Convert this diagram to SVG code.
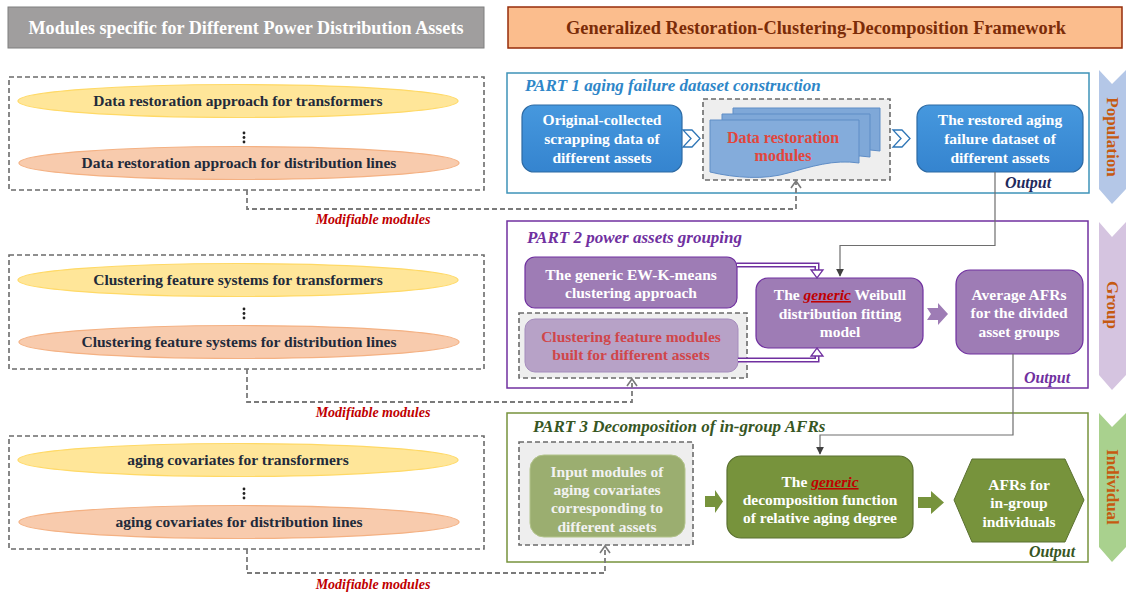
<svg xmlns="http://www.w3.org/2000/svg" width="1126" height="596" viewBox="0 0 1126 596">
<defs>
<style>
.t{font-family:"Liberation Serif","Times New Roman",serif;font-weight:bold;text-anchor:middle}
.nw{fill:#ffffff;font-size:15.5px}
.el{fill:#222a3a;font-size:15.5px}
.mod{fill:#c00000;font-size:14px;font-style:italic}
.ttl{font-size:17px;font-style:italic;text-anchor:start}
.out{font-size:16px;font-style:italic}
.side{fill:#c55a11;font-size:17px}
.gen{fill:#c00000;font-style:italic;text-decoration:underline}
.dbox{fill:none;stroke:#6b6b6b;stroke-width:1.6;stroke-dasharray:5 3}
.dconn{fill:none;stroke:#7a7a7a;stroke-width:1.8;stroke-dasharray:5 3}
.ohead{fill:none;stroke:#7a7a7a;stroke-width:1.6}
.conn{fill:none;stroke:#6e6e6e;stroke-width:1.2}
.ey{fill:#ffe699;stroke:#ffd966;stroke-width:1.2}
.eo{fill:#f8cbad;stroke:#f4b183;stroke-width:1.2}
</style>
<linearGradient id="gb" x1="0" y1="0" x2="0" y2="1"><stop offset="0" stop-color="#4698de"/><stop offset="1" stop-color="#3584cf"/></linearGradient>
<marker id="ah" viewBox="0 0 10 10" refX="9" refY="5" markerWidth="8" markerHeight="8" orient="auto" markerUnits="userSpaceOnUse"><path d="M0,0 L10,5 L0,10 Z" fill="#404040"/></marker>
</defs>

<!-- headers -->
<g id="header-left">
<rect x="8" y="7" width="476" height="41" fill="#a09e9e" stroke="#7f7f7f" stroke-width="1"/>
<text class="t" x="246" y="34" fill="#ffffff" font-size="18" textLength="435" lengthAdjust="spacingAndGlyphs">Modules specific for Different Power Distribution Assets</text>
</g>
<g id="header-right">
<rect x="508" y="7" width="614" height="41" fill="#fbbd8d" stroke="#962d0a" stroke-width="1.5"/>
<text class="t" x="816" y="34" fill="#7b2c08" font-size="18" textLength="500" lengthAdjust="spacingAndGlyphs">Generalized Restoration-Clustering-Decomposition Framework</text>
</g>

<!-- left module groups -->
<g id="left-restoration">
<rect class="dbox" x="9" y="77" width="475" height="113"/>
<ellipse class="ey" cx="238" cy="101" rx="220" ry="16.5"/>
<text class="t el" x="238" y="106">Data restoration approach for transformers</text>
<circle cx="244" cy="133" r="1.4" fill="#222"/><circle cx="244" cy="137.5" r="1.4" fill="#222"/><circle cx="244" cy="142" r="1.4" fill="#222"/>
<ellipse class="eo" cx="239" cy="163" rx="220" ry="16.5"/>
<text class="t el" x="239" y="168">Data restoration approach for distribution lines</text>
</g>
<g id="left-clustering">
<rect class="dbox" x="9" y="255" width="475" height="114"/>
<ellipse class="ey" cx="238" cy="280" rx="220" ry="16.5"/>
<text class="t el" x="238" y="285">Clustering feature systems for transformers</text>
<circle cx="244" cy="309" r="1.4" fill="#222"/><circle cx="244" cy="313.5" r="1.4" fill="#222"/><circle cx="244" cy="318" r="1.4" fill="#222"/>
<ellipse class="eo" cx="239" cy="342" rx="220" ry="16.5"/>
<text class="t el" x="239" y="347">Clustering feature systems for distribution lines</text>
</g>
<g id="left-covariates">
<rect class="dbox" x="9" y="436" width="475" height="113"/>
<ellipse class="ey" cx="238" cy="460" rx="220" ry="16.5"/>
<text class="t el" x="238" y="465">aging covariates for transformers</text>
<circle cx="244" cy="489" r="1.4" fill="#222"/><circle cx="244" cy="493.5" r="1.4" fill="#222"/><circle cx="244" cy="498" r="1.4" fill="#222"/>
<ellipse class="eo" cx="239" cy="522" rx="220" ry="16.5"/>
<text class="t el" x="239" y="527">aging covariates for distribution lines</text>
</g>

<!-- PART frames -->
<g id="part1">
<rect x="507" y="73" width="582" height="120" fill="#ffffff" stroke="#3e93b8" stroke-width="1.5"/>
<text class="t ttl" x="525" y="91" fill="#2e86c8">PART 1 aging failure dataset construction</text>
<text class="t out" x="1028" y="188" fill="#1f2a5c">Output</text>
</g>
<g id="part2">
<rect x="507" y="221" width="581" height="167" fill="#ffffff" stroke="#7030a0" stroke-width="1.5"/>
<text class="t ttl" x="527" y="243" fill="#7030a0">PART 2 power assets grouping</text>
<text class="t out" x="1047" y="383" fill="#7030a0">Output</text>
</g>
<g id="part3">
<rect x="507" y="413" width="581" height="149" fill="#ffffff" stroke="#77933c" stroke-width="1.5"/>
<text class="t ttl" x="533" y="432" fill="#375623">PART 3 Decomposition of in-group AFRs</text>
<text class="t out" x="1052" y="557" fill="#375623">Output</text>
</g>

<!-- side chevrons -->
<g id="population">
<polygon points="1099,70 1112,84 1126,70 1126,189 1112,204 1099,189" fill="#b4c7e7"/>
<text class="t side" transform="translate(1107,137) rotate(90)" x="0" y="0">Population</text>
</g>
<g id="group">
<polygon points="1099,222 1112,237 1126,222 1126,375 1112,390 1099,375" fill="#d5c4e0"/>
<text class="t side" transform="translate(1107,305) rotate(90)" x="0" y="0">Group</text>
</g>
<g id="individual">
<polygon points="1099,413 1112,427 1126,413 1126,547 1112,562 1099,547" fill="#a9d18e"/>
<text class="t side" transform="translate(1107,487) rotate(90)" x="0" y="0">Individual</text>
</g>

<!-- Part 1 nodes -->
<g id="original-data">
<rect x="522" y="105" width="160" height="67" rx="12" fill="url(#gb)" stroke="#2d6aa3" stroke-width="1.2"/>
<text class="t nw" x="602" y="125">Original-collected</text>
<text class="t nw" x="602" y="144">scrapping data of</text>
<text class="t nw" x="602" y="163">different assets</text>
</g>
<g id="data-restoration-modules">
<rect x="703" y="99" width="187" height="81" fill="#eeeeee"/>
<rect class="dbox" x="703" y="99" width="187" height="81"/>
<path d="M733,108 H880 V151 C855,147 830,155 810,161 C790,167 760,165 733,160 Z" fill="#7fa8d8" stroke="#5f8dc6" stroke-width="1"/>
<path d="M722,114 H870 V157 C845,153 820,161 800,167 C780,173 750,171 722,166 Z" fill="#7fa8d8" stroke="#5f8dc6" stroke-width="1"/>
<path d="M710,120 H859 V163 C834,159 810,167 788,173 C765,180 735,178 710,172 Z" fill="#84acdb" stroke="#5f8dc6" stroke-width="1"/>
<text class="t" x="783" y="143" fill="#e2463c" font-size="16">Data restoration</text>
<text class="t" x="783" y="161" fill="#e2463c" font-size="16">modules</text>
</g>
<g id="restored-dataset">
<rect x="917" y="105" width="166" height="67" rx="12" fill="url(#gb)" stroke="#2d6aa3" stroke-width="1.2"/>
<text class="t nw" x="1000" y="125">The restored aging</text>
<text class="t nw" x="1000" y="144">failure dataset of</text>
<text class="t nw" x="1000" y="163">different assets</text>
</g>

<!-- Part 2 nodes -->
<g id="ew-k-means">
<rect x="525" y="257" width="212" height="51" rx="10" fill="#9e7cb5" stroke="#7030a0" stroke-width="1.2"/>
<text class="t nw" x="631" y="280">The generic EW-K-means</text>
<text class="t nw" x="631" y="298">clustering approach</text>
</g>
<g id="clustering-feature-modules">
<rect x="519" y="313" width="228" height="65" fill="#eeeeee"/>
<rect class="dbox" x="519" y="313" width="228" height="65"/>
<rect x="525" y="319" width="213" height="53" rx="10" fill="#b7a2c7" stroke="#a58cbd" stroke-width="1"/>
<text class="t" x="631" y="342" fill="#d0464a" font-size="15.5">Clustering feature modules</text>
<text class="t" x="631" y="360" fill="#d0464a" font-size="15.5">built for different assets</text>
</g>
<g id="weibull-model">
<rect x="756" y="278" width="167" height="70" rx="12" fill="#9e7cb5" stroke="#7030a0" stroke-width="1.2"/>
<text class="t nw" x="840" y="300">The <tspan class="gen">generic</tspan> Weibull</text>
<text class="t nw" x="840" y="319">distribution fitting</text>
<text class="t nw" x="840" y="337">model</text>
</g>
<g id="average-afrs">
<rect x="956" y="270" width="127" height="84" rx="14" fill="#9e7cb5" stroke="#7030a0" stroke-width="1.2"/>
<text class="t nw" x="1019" y="300">Average AFRs</text>
<text class="t nw" x="1019" y="318">for the divided</text>
<text class="t nw" x="1019" y="337">asset groups</text>
</g>

<!-- Part 3 nodes -->
<g id="input-modules">
<rect x="519" y="442" width="174" height="103" fill="#eeeeee"/>
<rect class="dbox" x="519" y="442" width="174" height="103"/>
<rect x="530" y="455" width="155" height="82" rx="14" fill="#9bae70" stroke="#b3c48c" stroke-width="1"/>
<text class="t" x="607" y="477" fill="#f2f2f2" font-size="15.5">Input modules  of</text>
<text class="t" x="607" y="495" fill="#f2f2f2" font-size="15.5">aging covariates</text>
<text class="t" x="607" y="513" fill="#f2f2f2" font-size="15.5">corresponding to</text>
<text class="t" x="607" y="532" fill="#f2f2f2" font-size="15.5">different assets</text>
</g>
<g id="decomposition-function">
<rect x="727" y="456" width="186" height="82" rx="14" fill="#77933c" stroke="#5a7030" stroke-width="1.2"/>
<text class="t nw" x="820" y="487">The <tspan class="gen">generic</tspan></text>
<text class="t nw" x="820" y="505">decomposition function</text>
<text class="t nw" x="820" y="523">of relative aging degree</text>
</g>
<g id="afrs-individuals">
<polygon points="954,500 972,459 1065,459 1084,500 1065,542 972,542" fill="#77933c" stroke="#5a7030" stroke-width="1"/>
<text class="t nw" x="1019" y="490">AFRs for</text>
<text class="t nw" x="1019" y="508">in-group</text>
<text class="t nw" x="1019" y="527">individuals</text>
</g>

<!-- connectors -->
<g id="connectors">
<polygon points="683,130 692,130 700,138.5 692,147 683,147 691,138.5" fill="#ffffff" stroke="#2e75b6" stroke-width="1.3"/>
<polygon points="893,130 902,130 910,138.5 902,147 893,147 901,138.5" fill="#ffffff" stroke="#2e75b6" stroke-width="1.3"/>
<path class="conn" d="M995,172 V245.5 H840 V276" marker-end="url(#ah)"/>
<path class="conn" d="M1013,354 V435 H820 V454" marker-end="url(#ah)"/>
<path d="M737,265 H817 V271" fill="none" stroke="#7030a0" stroke-width="5"/>
<path d="M737,265 H817 V272" fill="none" stroke="#ffffff" stroke-width="2"/>
<polygon points="811,270 823,270 817,278" fill="#ffffff" stroke="#7030a0" stroke-width="1.3"/>
<path d="M738,360 H817 V355" fill="none" stroke="#7030a0" stroke-width="5"/>
<path d="M738,360 H817 V354" fill="none" stroke="#ffffff" stroke-width="2"/>
<polygon points="811,356 823,356 817,348" fill="#ffffff" stroke="#7030a0" stroke-width="1.3"/>
<polygon points="927,308 938,308 938,303 948,314 938,325 938,320 927,320 931,314" fill="#9e7cb5"/>
<polygon points="705,496 715,496 715,490 723,501.5 715,513 715,507 705,507" fill="#77933c"/>
<polygon points="918,497 931,497 931,491 944,502.5 931,514 931,508 918,508" fill="#77933c"/>
<path class="dconn" d="M247,190 V209 H796 V182"/>
<path class="ohead" d="M791,188 L796,181 L801,188"/>
<path class="dconn" d="M247,369 V402 H632 V380"/>
<path class="ohead" d="M627,386 L632,379 L637,386"/>
<path class="dconn" d="M247,549 V573 H605 V547"/>
<path class="ohead" d="M600,553 L605,546 L610,553"/>
<text class="t mod" x="373" y="224">Modifiable modules</text>
<text class="t mod" x="373" y="417">Modifiable modules</text>
<text class="t mod" x="373" y="589">Modifiable modules</text>
</g>
</svg>
